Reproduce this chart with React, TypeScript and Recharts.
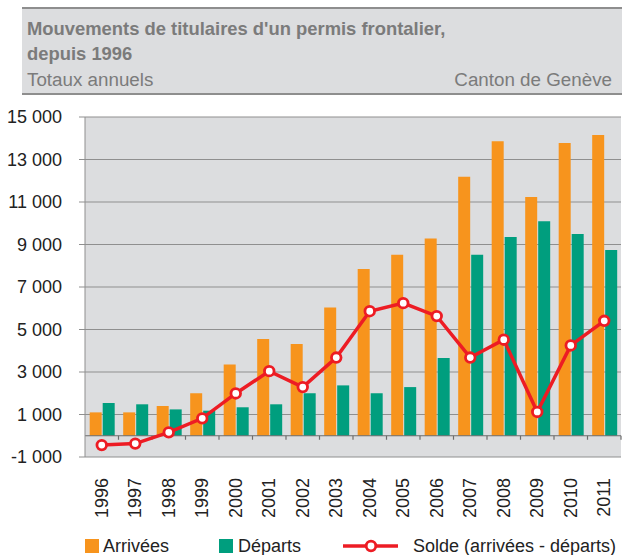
import { ComposedChart, Bar, Line, XAxis, YAxis, CartesianGrid, ReferenceLine } from 'recharts';

const years = ['1996', '1997', '1998', '1999', '2000', '2001', '2002', '2003', '2004', '2005', '2006', '2007', '2008', '2009', '2010', '2011'];
const arrivees = [1100, 1100, 1400, 2000, 3350, 4550, 4320, 6040, 7850, 8520, 9280, 12190, 13860, 11240, 13780, 14150];
const departs = [1540, 1480, 1240, 1180, 1340, 1480, 2000, 2370, 2000, 2290, 3660, 8520, 9350, 10090, 9490, 8740];
const solde = [-440, -370, 160, 820, 1990, 3040, 2290, 3680, 5860, 6240, 5630, 3680, 4520, 1120, 4250, 5410];
const yTicks = [-1000, 1000, 3000, 5000, 7000, 9000, 11000, 13000, 15000];

const data = years.map((year, i) => ({
  year,
  arrivees: arrivees[i],
  departs: departs[i],
  solde: solde[i],
}));

const ORANGE = '#F7941D';
const GREEN = '#009E7E';
const RED = '#ED1C24';
const FONT = '"Liberation Sans", Arial, sans-serif';

const formatValue = (v: number) => {
  const s = Math.abs(v).toString().replace(/\B(?=(\d{3})+(?!\d))/g, ' ');
  return v < 0 ? `-${s}` : s;
};

// zero line with small tick marks at category boundaries
const ZeroLine = (props: any) => {
  const { x1, y1, x2 } = props;
  const step = (x2 - x1) / years.length;
  return (
    <g>
      <line x1={x1} y1={y1} x2={x2} y2={y1} stroke="#6d6d6d" strokeWidth={1.2} />
      {years.map((_, i) => (
        <line key={i} x1={x1 + step * (i + 1)} y1={y1} x2={x1 + step * (i + 1)} y2={y1 + 4} stroke="#6d6d6d" strokeWidth={1.2} />
      ))}
    </g>
  );
};

const YearTick = ({ x, y, payload }: any) => (
  <text
    transform={`translate(${x},${y + 13}) rotate(-90)`}
    textAnchor="end"
    dominantBaseline="central"
    fontSize={18}
    fontFamily={FONT}
    fill="#222"
  >
    {payload.value}
  </text>
);

const legendText = { fontSize: 18, color: '#222', fontFamily: FONT };

const App = () => {
  return (
    <div style={{ position: 'absolute', left: 0, top: 0, width: 622, height: 555, background: '#fff', fontFamily: FONT }}>
      <div
        style={{
          position: 'absolute',
          left: 22,
          top: 7,
          width: 600,
          height: 84,
          boxSizing: 'content-box',
          background: '#DCDDDF',
          borderTop: '2px solid #8e8e8e',
          borderBottom: '2px solid #8e8e8e',
        }}
      >
        <div style={{ position: 'absolute', left: 5, top: 7, fontSize: 18.4, lineHeight: '25px', fontWeight: 'bold', color: '#7b7b7b', whiteSpace: 'nowrap' }}>
          Mouvements de titulaires d'un permis frontalier,
          <br />
          depuis 1996
        </div>
        <div style={{ position: 'absolute', left: 5, top: 58, fontSize: 18.8, lineHeight: '25px', color: '#7b7b7b' }}>Totaux annuels</div>
        <div style={{ position: 'absolute', right: 10, top: 58, fontSize: 18.8, lineHeight: '25px', color: '#7b7b7b' }}>Canton de Genève</div>
      </div>

      <div style={{ position: 'absolute', left: 0, top: 0 }}>
        <ComposedChart
          width={622}
          height={555}
          data={data}
          margin={{ top: 117, right: 1, bottom: 0, left: 0 }}
          barCategoryGap="14%"
          barGap={1}
        >
          <CartesianGrid vertical={false} stroke="#8f8f8f" fill="#DCDDDF" fillOpacity={1} />
          <XAxis dataKey="year" height={98} axisLine={false} tickLine={false} tick={<YearTick />} interval={0} />
          <YAxis
            domain={[-1000, 15000]}
            ticks={yTicks}
            width={85}
            tickFormatter={formatValue}
            tickSize={6}
            tickMargin={17}
            axisLine={{ stroke: '#8f8f8f' }}
            tickLine={{ stroke: '#8f8f8f' }}
            tick={{ fontSize: 18, fill: '#222', fontFamily: FONT }}
          />
          <Bar dataKey="arrivees" fill={ORANGE} isAnimationActive={false} />
          <Bar dataKey="departs" fill={GREEN} isAnimationActive={false} />
          <ReferenceLine y={0} shape={<ZeroLine />} />
          <Line
            type="linear"
            dataKey="solde"
            stroke={RED}
            strokeWidth={3.5}
            dot={{ r: 4.8, fill: '#fff', stroke: RED, strokeWidth: 2.8 }}
            isAnimationActive={false}
          />
        </ComposedChart>
      </div>

      {/* legend */}
      <div style={{ position: 'absolute', top: 534, left: 0, width: 622, height: 24 }}>
        <div style={{ position: 'absolute', left: 85, top: 5, width: 14, height: 14, background: ORANGE }} />
        <div style={{ ...legendText, position: 'absolute', left: 103, top: 0, lineHeight: '24px' }}>Arrivées</div>
        <div style={{ position: 'absolute', left: 219, top: 5, width: 14, height: 14, background: GREEN }} />
        <div style={{ ...legendText, position: 'absolute', left: 238, top: 0, lineHeight: '24px' }}>Départs</div>
        <svg style={{ position: 'absolute', left: 340, top: 0 }} width={64} height={24}>
          <line x1={3} y1={12} x2={58} y2={12} stroke={RED} strokeWidth={3.5} />
          <circle cx={31} cy={12} r={4.8} fill="#fff" stroke={RED} strokeWidth={2.8} />
        </svg>
        <div style={{ ...legendText, position: 'absolute', left: 413, top: 0, lineHeight: '24px' }}>Solde (arrivées - départs)</div>
      </div>
    </div>
  );
};

export default App;
